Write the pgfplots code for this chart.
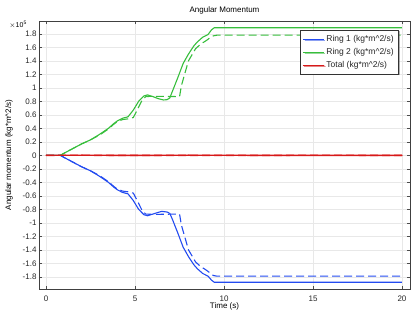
\documentclass[border=0pt]{standalone}
\usepackage{pgfplots}
\pgfplotsset{compat=1.18}
\usepackage{fontspec}
\setmainfont{Liberation Sans}
\usetikzlibrary{shadows}
\definecolor{ringblue}{RGB}{35,75,240}
\definecolor{ringgreen}{RGB}{55,190,60}
\definecolor{totred}{RGB}{215,25,25}
\begin{document}
\begin{tikzpicture}
\useasboundingbox (-39pt,-24pt) rectangle (377pt,289pt);
\begin{axis}[
  scale only axis,
  width=371pt, height=268pt,
  at={(0,0)}, anchor=south west,
  clip mode=individual,
  xmin=-0.4, xmax=20.45,
  ymin=-1.98, ymax=1.99,
  xtick={0,5,10,15,20},
  ytick={-1.8,-1.6,-1.4,-1.2,-1,-0.8,-0.6,-0.4,-0.2,0,0.2,0.4,0.6,0.8,1,1.2,1.4,1.6,1.8},
  /pgf/number format/assume math mode=true,
  ticklabel style={font=\fontsize{8}{9}\selectfont, text=black!85},
  yticklabel style={/pgf/number format/fixed, xshift=1pt},
  xticklabel style={yshift=-3pt},
  major tick length=3pt,
  tick style={black!70},
  axis line style={black!75, line width=0.9pt},
  grid=major,
  major grid style={gray!18, line width=0.5pt},
  title={Angular Momentum},
  title style={font=\fontsize{8}{9}\selectfont, yshift=-3pt},
  xlabel={Time (s)},
  ylabel={Angular momentum (kg*m\textasciicircum 2/s)},
  label style={font=\fontsize{8}{9}\selectfont},
  xlabel style={yshift=5pt},
  ylabel style={yshift=3pt},
  legend style={at={(1,1)}, anchor=north east, xshift=-11pt, yshift=-9pt,
    font=\fontsize{8.5}{9.5}\selectfont, text=black!85, draw=black!80, line width=0.6pt,
    fill=white, drop shadow={shadow xshift=1.2pt, shadow yshift=-1.2pt, fill=black!60},
    row sep=1.5pt, inner sep=3pt},
  legend cell align=left,
  legend image code/.code={\draw[#1, line width=1.1pt] (0cm,0cm) -- (0.72cm,0cm);},
]
% Ring 1 solid
\addplot[color=ringblue, line width=1.1pt] coordinates {
(0,0)(0.8,0)(1.0,-0.03)(1.5,-0.1)(2,-0.17)(2.5,-0.23)(3,-0.31)(3.5,-0.4)(3.8,-0.47)(4.0,-0.51)(4.3,-0.55)(4.6,-0.57)(4.9,-0.67)(5.2,-0.8)(5.5,-0.88)(5.7,-0.895)(6.0,-0.87)(6.3,-0.845)(6.5,-0.83)(6.8,-0.84)(6.95,-0.86)(7.1,-0.95)(7.4,-1.15)(7.7,-1.36)(8.0,-1.5)(8.3,-1.62)(8.5,-1.68)(8.8,-1.75)(9.1,-1.79)(9.3,-1.85)(9.45,-1.88)(20,-1.88)};
\addlegendentry{Ring 1 (kg*m\textasciicircum 2/s)}
% Ring 2 solid
\addplot[color=ringgreen, line width=1.1pt] coordinates {
(0,0)(0.8,0)(1.0,0.03)(1.5,0.1)(2,0.17)(2.5,0.23)(3,0.31)(3.5,0.4)(3.8,0.47)(4.0,0.51)(4.3,0.55)(4.6,0.57)(4.9,0.67)(5.2,0.8)(5.5,0.88)(5.7,0.895)(6.0,0.87)(6.3,0.84)(6.6,0.82)(6.8,0.825)(6.95,0.85)(7.1,0.95)(7.4,1.15)(7.7,1.36)(8.0,1.5)(8.3,1.62)(8.5,1.68)(8.8,1.75)(9.1,1.79)(9.3,1.86)(9.45,1.89)(20,1.89)};
\addlegendentry{Ring 2 (kg*m\textasciicircum 2/s)}
% Total
\addplot[color=totred, line width=1.4pt, line cap=round] coordinates {(0,0)(2,0.002)(5,-0.001)(8,0.002)(10,0.001)(15,-0.001)(20,0)};
\addlegendentry{Total (kg*m\textasciicircum 2/s)}
% Ring 1 dashed
\addplot[color=ringblue, line width=1.1pt, dash pattern=on 8pt off 4pt, forget plot] coordinates {
(0,0)(0.8,0)(1.0,-0.03)(1.5,-0.1)(2,-0.17)(2.5,-0.23)(3,-0.3)(3.5,-0.39)(3.8,-0.46)(4.0,-0.5)(4.3,-0.53)(4.6,-0.54)(4.9,-0.56)(5.1,-0.66)(5.4,-0.82)(5.6,-0.87)(6.0,-0.875)(7.5,-0.87)(7.6,-1.03)(8.0,-1.40)(8.4,-1.58)(8.7,-1.65)(9.0,-1.70)(9.2,-1.74)(9.4,-1.78)(9.6,-1.79)(20,-1.79)};
% Ring 2 dashed
\addplot[color=ringgreen, line width=1.1pt, dash pattern=on 8pt off 4pt, forget plot] coordinates {
(0,0)(0.8,0)(1.0,0.03)(1.5,0.1)(2,0.17)(2.5,0.23)(3,0.3)(3.5,0.39)(3.8,0.46)(4.0,0.5)(4.3,0.53)(4.6,0.54)(4.9,0.56)(5.1,0.66)(5.4,0.82)(5.6,0.87)(6.0,0.875)(7.5,0.87)(7.6,1.03)(8.0,1.40)(8.4,1.58)(8.7,1.65)(9.0,1.70)(9.2,1.74)(9.4,1.77)(9.6,1.78)(20,1.78)};
% Total dashed
\addplot[color=totred, line width=1.4pt, dash pattern=on 8pt off 4pt, forget plot] coordinates {(0,0.001)(5,0)(10,-0.001)(15,0.001)(20,0)};
\node[anchor=east, font=\fontsize{7}{8}\selectfont, inner sep=0pt, xshift=-12pt, yshift=-4pt] at (rel axis cs:0,1) {$\times$10\textsuperscript{5}};
\end{axis}
\end{tikzpicture}
\end{document}
